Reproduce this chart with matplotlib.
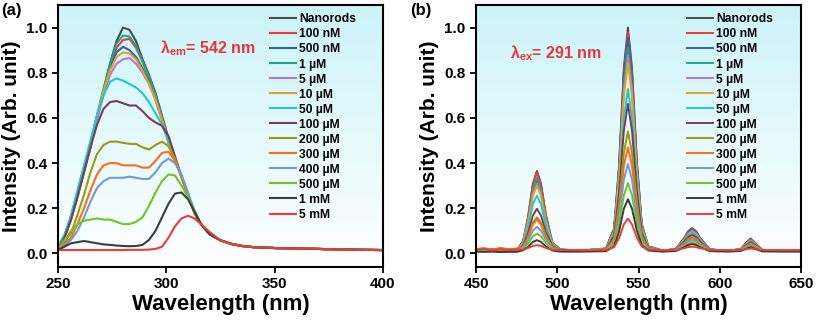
import numpy as np
import matplotlib
matplotlib.use('Agg')
import matplotlib.pyplot as plt

plt.rcParams['font.family'] = ['Liberation Sans', 'DejaVu Sans']
plt.rcParams['font.weight'] = 'bold'

# Legend labels and colours (same order in both panels)
labels = ['Nanorods', '100 nM', '500 nM', '1 µM', '5 µM', '10 µM', '50 µM',
          '100 µM', '200 µM', '300 µM', '400 µM', '500 µM', '1 mM', '5 mM']
colors = ['#4a4a4a', '#f03a3a', '#2f62a8', '#1fa585', '#b677cc', '#e2a225', '#22c6d2',
          '#7b3c58', '#9a9a12', '#ff6a14', '#6c9cd2', '#72c224', '#3c3c3c', '#f03a3a']

# ---- Panel (a): excitation spectra (lambda_em = 542 nm) ----
wl_a_body = [250, 253, 256, 259, 262, 265, 268, 271, 274, 277, 280, 283, 286, 289,
             292, 295, 298, 301, 304, 307, 310, 313, 316, 320]
wl_a_tail = [325, 330, 335, 340, 350, 360, 370, 380, 390, 400]
tail_a = [0.058, 0.042, 0.033, 0.028, 0.024, 0.022, 0.020, 0.018, 0.016, 0.015]

a_nanorods = [0.03, 0.07, 0.15, 0.25, 0.36, 0.47, 0.60, 0.72, 0.84, 0.94, 1.00, 0.99, 0.94, 0.86,
              0.79, 0.71, 0.61, 0.51, 0.42, 0.34, 0.26, 0.18, 0.13, 0.085]
a_100nM = [0.03, 0.07, 0.15, 0.26, 0.37, 0.48, 0.60, 0.72, 0.83, 0.91, 0.945, 0.95, 0.91, 0.85,
           0.78, 0.70, 0.60, 0.50, 0.42, 0.34, 0.26, 0.18, 0.13, 0.085]
a_500nM = [0.03, 0.08, 0.16, 0.27, 0.38, 0.49, 0.61, 0.72, 0.82, 0.89, 0.915, 0.90, 0.87, 0.82,
           0.76, 0.68, 0.59, 0.49, 0.41, 0.34, 0.26, 0.18, 0.13, 0.085]
a_1uM = [0.03, 0.08, 0.16, 0.27, 0.38, 0.49, 0.61, 0.73, 0.84, 0.93, 0.965, 0.96, 0.92, 0.85,
         0.78, 0.70, 0.60, 0.50, 0.42, 0.34, 0.26, 0.18, 0.13, 0.085]
a_5uM = [0.03, 0.07, 0.15, 0.26, 0.37, 0.48, 0.59, 0.70, 0.79, 0.84, 0.86, 0.865, 0.84, 0.80,
         0.75, 0.68, 0.59, 0.49, 0.41, 0.34, 0.26, 0.18, 0.13, 0.085]
a_10uM = [0.03, 0.08, 0.16, 0.27, 0.38, 0.49, 0.61, 0.72, 0.81, 0.87, 0.89, 0.885, 0.86, 0.81,
          0.75, 0.68, 0.59, 0.49, 0.41, 0.34, 0.26, 0.18, 0.13, 0.085]
a_50uM = [0.03, 0.08, 0.17, 0.28, 0.39, 0.50, 0.61, 0.70, 0.76, 0.775, 0.765, 0.75, 0.735, 0.71,
          0.67, 0.62, 0.57, 0.50, 0.42, 0.34, 0.26, 0.18, 0.13, 0.085]
a_100uM = [0.02, 0.07, 0.15, 0.25, 0.36, 0.47, 0.57, 0.64, 0.67, 0.675, 0.665, 0.655, 0.655, 0.63,
           0.60, 0.58, 0.565, 0.52, 0.43, 0.34, 0.26, 0.18, 0.13, 0.085]
a_200uM = [0.02, 0.05, 0.09, 0.17, 0.26, 0.36, 0.44, 0.48, 0.495, 0.495, 0.49, 0.485, 0.485, 0.47,
           0.46, 0.48, 0.495, 0.475, 0.42, 0.34, 0.26, 0.18, 0.13, 0.085]
a_300uM = [0.02, 0.04, 0.07, 0.13, 0.20, 0.28, 0.35, 0.39, 0.40, 0.40, 0.39, 0.39, 0.39, 0.38,
           0.38, 0.41, 0.445, 0.45, 0.41, 0.34, 0.26, 0.18, 0.13, 0.085]
a_400uM = [0.02, 0.035, 0.06, 0.10, 0.16, 0.23, 0.29, 0.32, 0.335, 0.335, 0.335, 0.34, 0.335, 0.33,
           0.33, 0.36, 0.40, 0.42, 0.40, 0.35, 0.27, 0.19, 0.13, 0.085]
a_500uM = [0.02, 0.06, 0.10, 0.13, 0.145, 0.15, 0.155, 0.15, 0.15, 0.14, 0.13, 0.13, 0.14, 0.16,
           0.21, 0.27, 0.32, 0.35, 0.345, 0.30, 0.25, 0.19, 0.13, 0.085]
a_1mM = [0.015, 0.03, 0.045, 0.05, 0.055, 0.05, 0.045, 0.04, 0.038, 0.035, 0.033, 0.032, 0.033, 0.038,
         0.06, 0.10, 0.16, 0.22, 0.265, 0.27, 0.24, 0.185, 0.13, 0.085]
a_5mM = [0.015, 0.015, 0.015, 0.015, 0.015, 0.015, 0.015, 0.015, 0.015, 0.015, 0.015, 0.016, 0.016, 0.016,
         0.017, 0.02, 0.03, 0.07, 0.12, 0.155, 0.167, 0.155, 0.13, 0.095]

# ---- Panel (b): emission spectra (lambda_ex = 291 nm) ----
wl_b = [450, 455, 460, 465, 470, 475, 479, 482, 485, 487.5, 490, 493, 497, 502, 515, 530,
        535, 538, 541, 543.5, 546, 549, 552, 556, 565, 573, 578, 580.5, 583, 585.5, 588, 594,
        605, 613, 616, 619, 622, 626, 640, 650]

b_nanorods = [0.012, 0.015, 0.011, 0.013, 0.012, 0.014, 0.054, 0.160, 0.309, 0.365, 0.309, 0.171, 0.047, 0.017, 0.012, 0.022,
              0.111, 0.387, 0.822, 1.000, 0.822, 0.407, 0.131, 0.032, 0.012, 0.020, 0.067, 0.098, 0.112, 0.098, 0.067, 0.018,
              0.011, 0.020, 0.045, 0.066, 0.045, 0.016, 0.012, 0.011]
b_100nM = [0.018, 0.012, 0.020, 0.014, 0.019, 0.015, 0.054, 0.158, 0.304, 0.360, 0.304, 0.169, 0.047, 0.018, 0.013, 0.022,
           0.109, 0.379, 0.804, 0.978, 0.804, 0.398, 0.128, 0.031, 0.013, 0.020, 0.066, 0.096, 0.110, 0.096, 0.066, 0.018,
           0.012, 0.019, 0.044, 0.064, 0.044, 0.016, 0.013, 0.012]
b_500nM = [0.011, 0.013, 0.012, 0.010, 0.013, 0.014, 0.049, 0.141, 0.271, 0.320, 0.271, 0.151, 0.043, 0.016, 0.011, 0.021,
           0.106, 0.370, 0.785, 0.955, 0.785, 0.389, 0.125, 0.031, 0.012, 0.020, 0.064, 0.093, 0.106, 0.093, 0.064, 0.018,
           0.011, 0.019, 0.043, 0.062, 0.043, 0.016, 0.011, 0.010]
b_1uM = [0.012, 0.014, 0.013, 0.016, 0.012, 0.015, 0.051, 0.148, 0.283, 0.335, 0.283, 0.157, 0.044, 0.017, 0.012, 0.021,
         0.102, 0.354, 0.750, 0.912, 0.750, 0.372, 0.120, 0.030, 0.012, 0.019, 0.060, 0.088, 0.100, 0.088, 0.060, 0.017,
         0.012, 0.019, 0.042, 0.060, 0.042, 0.015, 0.012, 0.011]
b_5uM = [0.013, 0.011, 0.015, 0.012, 0.011, 0.015, 0.048, 0.137, 0.262, 0.310, 0.262, 0.146, 0.042, 0.016, 0.013, 0.021,
         0.098, 0.340, 0.720, 0.875, 0.720, 0.357, 0.116, 0.029, 0.011, 0.019, 0.060, 0.088, 0.100, 0.088, 0.060, 0.017,
         0.012, 0.018, 0.041, 0.058, 0.041, 0.015, 0.012, 0.012]
b_10uM = [0.014, 0.012, 0.016, 0.013, 0.015, 0.015, 0.047, 0.133, 0.254, 0.300, 0.254, 0.142, 0.041, 0.016, 0.012, 0.020,
          0.095, 0.329, 0.696, 0.846, 0.696, 0.346, 0.112, 0.029, 0.012, 0.019, 0.058, 0.083, 0.095, 0.083, 0.058, 0.017,
          0.012, 0.018, 0.039, 0.056, 0.039, 0.015, 0.013, 0.012]
b_50uM = [0.012, 0.013, 0.011, 0.014, 0.012, 0.014, 0.041, 0.114, 0.217, 0.256, 0.217, 0.122, 0.036, 0.015, 0.013, 0.019,
          0.084, 0.284, 0.599, 0.728, 0.599, 0.298, 0.098, 0.026, 0.012, 0.018, 0.055, 0.079, 0.090, 0.079, 0.055, 0.017,
          0.012, 0.018, 0.037, 0.052, 0.037, 0.015, 0.012, 0.011]
b_100uM = [0.011, 0.012, 0.010, 0.012, 0.011, 0.013, 0.034, 0.090, 0.168, 0.198, 0.168, 0.096, 0.031, 0.014, 0.011, 0.018,
           0.077, 0.259, 0.545, 0.662, 0.545, 0.272, 0.090, 0.025, 0.011, 0.018, 0.051, 0.072, 0.082, 0.072, 0.051, 0.016,
           0.011, 0.017, 0.036, 0.050, 0.036, 0.015, 0.011, 0.011]
b_200uM = [0.013, 0.015, 0.012, 0.013, 0.014, 0.013, 0.030, 0.074, 0.136, 0.160, 0.136, 0.079, 0.027, 0.014, 0.012, 0.017,
           0.065, 0.213, 0.445, 0.540, 0.445, 0.223, 0.075, 0.023, 0.012, 0.017, 0.045, 0.064, 0.072, 0.064, 0.045, 0.016,
           0.012, 0.017, 0.032, 0.045, 0.032, 0.014, 0.012, 0.012]
b_300uM = [0.020, 0.024, 0.016, 0.025, 0.018, 0.022, 0.029, 0.070, 0.128, 0.150, 0.128, 0.074, 0.026, 0.015, 0.016, 0.017,
           0.058, 0.186, 0.388, 0.470, 0.388, 0.195, 0.067, 0.021, 0.013, 0.016, 0.042, 0.058, 0.066, 0.058, 0.042, 0.015,
           0.013, 0.016, 0.031, 0.042, 0.031, 0.014, 0.013, 0.013]
b_400uM = [0.010, 0.011, 0.012, 0.010, 0.011, 0.011, 0.025, 0.057, 0.101, 0.118, 0.101, 0.060, 0.023, 0.012, 0.011, 0.016,
           0.050, 0.158, 0.327, 0.396, 0.327, 0.166, 0.058, 0.020, 0.011, 0.016, 0.037, 0.052, 0.058, 0.052, 0.037, 0.015,
           0.011, 0.016, 0.028, 0.038, 0.028, 0.014, 0.011, 0.011]
b_500uM = [0.012, 0.010, 0.013, 0.011, 0.012, 0.011, 0.021, 0.044, 0.076, 0.088, 0.076, 0.046, 0.020, 0.012, 0.012, 0.015,
           0.042, 0.126, 0.258, 0.312, 0.258, 0.132, 0.048, 0.018, 0.012, 0.015, 0.032, 0.043, 0.048, 0.043, 0.032, 0.014,
           0.011, 0.015, 0.024, 0.032, 0.024, 0.013, 0.012, 0.011]
b_1mM = [0.008, 0.007, 0.008, 0.006, 0.007, 0.007, 0.014, 0.029, 0.051, 0.059, 0.051, 0.031, 0.013, 0.008, 0.008, 0.010,
         0.031, 0.096, 0.198, 0.240, 0.198, 0.101, 0.036, 0.013, 0.008, 0.011, 0.027, 0.037, 0.042, 0.037, 0.027, 0.010,
         0.008, 0.011, 0.020, 0.028, 0.020, 0.009, 0.008, 0.008]
b_5mM = [0.016, 0.020, 0.013, 0.018, 0.015, 0.017, 0.017, 0.024, 0.033, 0.037, 0.033, 0.024, 0.016, 0.016, 0.014, 0.015,
         0.028, 0.067, 0.129, 0.154, 0.129, 0.070, 0.031, 0.017, 0.014, 0.015, 0.023, 0.028, 0.030, 0.028, 0.023, 0.015,
         0.014, 0.015, 0.019, 0.022, 0.019, 0.015, 0.014, 0.014]

series_a = [a_nanorods, a_100nM, a_500nM, a_1uM, a_5uM, a_10uM, a_50uM,
            a_100uM, a_200uM, a_300uM, a_400uM, a_500uM, a_1mM, a_5mM]
series_b = [b_nanorods, b_100nM, b_500nM, b_1uM, b_5uM, b_10uM, b_50uM,
            b_100uM, b_200uM, b_300uM, b_400uM, b_500uM, b_1mM, b_5mM]

fig = plt.figure(figsize=(8.17, 3.25), dpi=100)
ax_a = fig.add_axes([58 / 817, 58 / 325, 325 / 817, 262 / 325])
ax_b = fig.add_axes([476 / 817, 58 / 325, 325 / 817, 262 / 325])

# light cyan (top) -> white (bottom) background gradient
top = np.array([0.80, 0.955, 0.975])
grad = np.linspace(0, 1, 256)[:, None, None]
bg = top + (1 - top) * grad
bg = np.repeat(bg, 2, axis=1)


def style_axes(ax, xlim, xticks):
    ax.imshow(bg, extent=[0, 1, 0, 1], transform=ax.transAxes, aspect='auto', zorder=0)
    ax.set_xlim(*xlim)
    ax.set_ylim(-0.06, 1.10)
    ax.set_xticks(xticks)
    ax.set_yticks([0.0, 0.2, 0.4, 0.6, 0.8, 1.0])
    ax.set_yticklabels(['0.0', '0.2', '0.4', '0.6', '0.8', '1.0'])
    ax.tick_params(direction='out', length=4, width=1.3, labelsize=11)
    for sp in ax.spines.values():
        sp.set_linewidth(1.5)
    ax.set_xlabel('Wavelength (nm)', fontsize=16, fontweight='bold', labelpad=2)
    ax.set_ylabel('Intensity (Arb. unit)', fontsize=15, fontweight='bold', labelpad=4)


wl_a = wl_a_body + wl_a_tail
for ys, c, lab in zip(series_a, colors, labels):
    ax_a.plot(wl_a, ys + tail_a, color=c, lw=1.5, label=lab, zorder=2)
style_axes(ax_a, (250, 400), [250, 300, 350, 400])
ax_a.text(0.314, 0.835, r'$\mathregular{\lambda_{em}}$= 542 nm', transform=ax_a.transAxes,
          color='#e8353a', fontsize=11.5, fontweight='bold', va='center')

for ys, c, lab in zip(series_b, colors, labels):
    ax_b.plot(wl_b, ys, color=c, lw=1.4, label=lab, zorder=2)
style_axes(ax_b, (450, 650), [450, 500, 550, 600, 650])
ax_b.text(0.105, 0.815, r'$\mathregular{\lambda_{ex}}$= 291 nm', transform=ax_b.transAxes,
          color='#e8353a', fontsize=11.5, fontweight='bold', va='center')

for ax, x0 in [(ax_a, 0.625), (ax_b, 0.622)]:
    ax.legend(loc='upper left', bbox_to_anchor=(x0, 1.0), frameon=False, fontsize=8.7,
              handlelength=2.2, handletextpad=0.25, labelspacing=0.25, borderaxespad=0.3)

fig.text(1 / 817, 1 - 10 / 325, '(a)', fontsize=12, fontweight='bold', va='center')
fig.text(410 / 817, 1 - 10 / 325, '(b)', fontsize=12, fontweight='bold', va='center')

fig.savefig('out.png', dpi=100)
